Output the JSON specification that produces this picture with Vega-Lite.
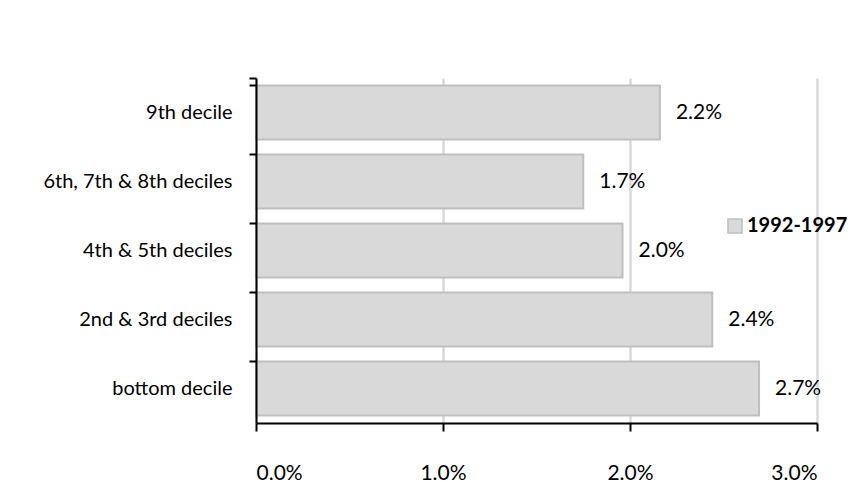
{
  "$schema": "https://vega.github.io/schema/vega-lite/v6.json",
  "width": 561,
  "height": 345,
  "autosize": {"type": "none"},
  "padding": {"left": 256, "top": 78, "right": 47, "bottom": 77},
  "background": "white",
  "data": {
    "values": [
      {"group": "9th decile", "value": 0.0216, "label": "2.2%", "series": "1992-1997"},
      {"group": "6th, 7th & 8th deciles", "value": 0.0175, "label": "1.7%", "series": "1992-1997"},
      {"group": "4th & 5th deciles", "value": 0.0196, "label": "2.0%", "series": "1992-1997"},
      {"group": "2nd & 3rd deciles", "value": 0.0244, "label": "2.4%", "series": "1992-1997"},
      {"group": "bottom decile", "value": 0.0269, "label": "2.7%", "series": "1992-1997"}
    ]
  },
  "encoding": {
    "y": {
      "field": "group",
      "type": "nominal",
      "sort": null,
      "scale": {"paddingInner": 0.22, "paddingOuter": 0.11},
      "axis": {
        "title": null,
        "bandPosition": 0,
        "tickExtra": true,
        "domainColor": "#000000",
        "domainWidth": 2,
        "tickColor": "#000000",
        "tickWidth": 2,
        "tickSize": 7,
        "labelPadding": 17,
        "labelLimit": 0,
        "labelFont": "Lato",
        "labelFontSize": 20,
        "labelColor": "#000000",
        "grid": false,
        "zindex": 1
      }
    },
    "x": {
      "field": "value",
      "type": "quantitative",
      "scale": {"domain": [0, 0.03], "nice": false},
      "axis": {
        "title": null,
        "values": [0, 0.01, 0.02, 0.03],
        "format": ".1%",
        "domainColor": "#000000",
        "domainWidth": 2,
        "tickColor": "#000000",
        "tickWidth": 2,
        "tickSize": 8,
        "labelPadding": 31,
        "labelFont": "Lato",
        "labelFontSize": 21,
        "labelColor": "#000000",
        "grid": true,
        "gridColor": "#d9d9d9",
        "gridWidth": 2.5
      }
    }
  },
  "layer": [
    {
      "mark": {"type": "bar", "stroke": "#bfbfbf", "strokeWidth": 2},
      "encoding": {
        "color": {
          "field": "series",
          "type": "nominal",
          "scale": {"range": ["#d9d9d9"]},
          "legend": {
            "title": null,
            "orient": "none",
            "legendX": 469,
            "legendY": 138,
            "padding": 0,
            "symbolType": "square",
            "symbolSize": 196,
            "symbolStrokeColor": "#bfbfbf",
            "symbolStrokeWidth": 1.5,
            "labelFont": "Lato",
            "labelFontSize": 20,
            "labelFontWeight": "bold",
            "labelColor": "#000000",
            "labelOffset": 2
          }
        }
      }
    },
    {
      "mark": {"type": "text", "align": "left", "baseline": "middle", "dx": 16, "font": "Lato", "fontSize": 21, "color": "#000000"},
      "encoding": {"text": {"field": "label"}}
    }
  ],
  "config": {"view": {"stroke": null}}
}
